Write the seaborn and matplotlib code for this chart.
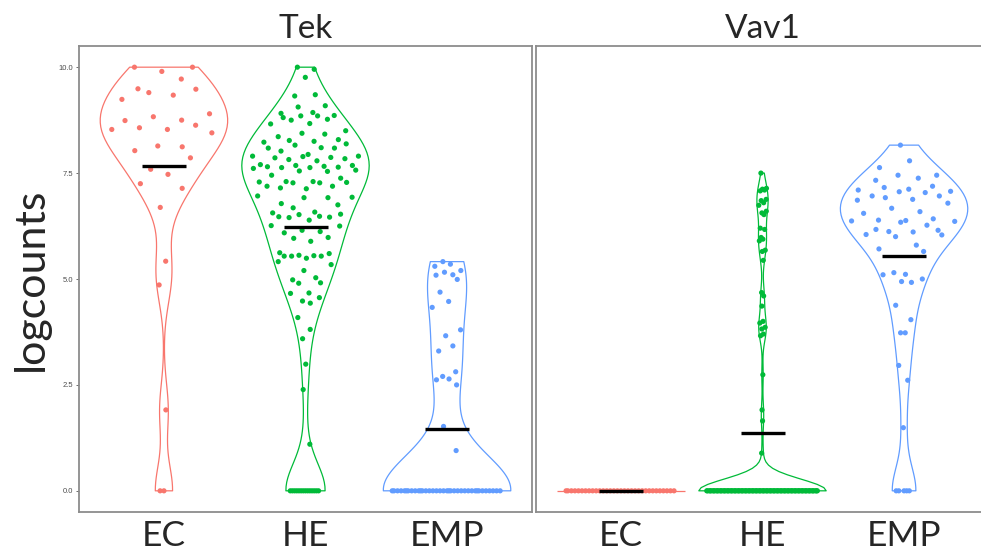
import numpy as np
import pandas as pd
import seaborn as sns
import matplotlib.pyplot as plt

# values (logcounts per cell)
genes = ['Tek', 'Vav1']
cell_types = ['EC', 'HE', 'EMP']
colours = ['#F8766D', '#00BA38', '#619CFF']

tek_ec = [10.0, 10.0, 9.9, 9.72, 9.49, 9.48, 9.40, 9.34, 9.24, 8.90, 8.74, 8.83,
          8.75, 8.63, 8.53, 8.57, 8.53, 8.45, 8.03, 8.14, 8.12, 7.86, 7.59, 7.47,
          7.25, 7.14, 6.69, 5.42, 4.86, 1.91, 0.0, 0.0]
tek_he = [10.0, 9.95, 9.76, 9.35, 9.32, 9.09, 9.06, 8.93, 8.91, 8.86, 8.85, 8.85,
          8.81, 8.77, 8.75, 8.67, 8.66, 8.50, 8.44, 8.42, 8.36, 8.29, 8.27, 8.25,
          8.23, 8.19, 8.16, 8.10, 8.09, 8.09, 8.02, 7.94, 7.90, 7.90, 7.89, 7.87,
          7.86, 7.84, 7.82, 7.79, 7.70, 7.68, 7.68, 7.66, 7.65, 7.64, 7.63, 7.63,
          7.61, 7.57, 7.55, 7.54, 7.45, 7.38, 7.30, 7.30, 7.29, 7.28, 7.27, 7.27,
          7.19, 7.19, 7.15, 7.13, 6.96, 6.93, 6.92, 6.92, 6.78, 6.75, 6.68,
          6.58, 6.56, 6.53, 6.52, 6.48, 6.47, 6.46, 6.45, 6.39, 6.26, 6.25, 6.15,
          6.12, 6.09, 5.98, 5.96, 5.89, 5.62, 5.60, 5.56, 5.55, 5.54, 5.54, 5.54,
          5.49, 5.41, 5.34, 5.20, 5.03, 4.98, 4.91, 4.90, 4.67, 4.66, 4.56, 4.48,
          4.43, 4.09, 3.81, 3.59, 2.99, 2.39, 1.10] + [0.0] * 14
tek_emp = [5.41, 5.35, 5.30, 5.20, 5.16, 5.10, 5.09, 4.99, 4.69, 4.47, 4.33, 3.80,
           3.66, 3.42, 3.30, 2.81, 2.70, 2.62, 2.64, 2.50, 1.52, 0.95] + [0.0] * 36
vav1_ec = [0.0] * 32
vav1_he = [7.50, 7.14, 7.12, 7.10, 7.08, 6.88, 6.85, 6.80, 6.74, 6.60, 6.56, 6.52,
           6.20, 6.17, 5.98, 5.94, 5.90, 5.68, 5.65, 5.44, 4.68, 4.60, 4.36, 4.00,
           3.96, 3.86, 3.82, 3.70, 3.66, 2.74, 1.91, 1.65, 0.89] + [0.0] * 95
vav1_emp = [8.16, 7.79, 7.63, 7.45, 7.45, 7.38, 7.33, 7.19, 7.16, 7.12, 7.10, 7.07,
            7.06, 7.04, 6.96, 6.96, 6.92, 6.88, 6.86, 6.79, 6.67, 6.59, 6.55, 6.42,
            6.39, 6.38, 6.37, 6.36, 6.34, 6.27, 6.17, 6.15, 6.12, 6.11, 6.05, 6.04,
            6.00, 5.80, 5.71, 5.65, 5.10, 5.15, 5.11, 5.00, 4.94, 4.92, 4.38, 4.04,
            3.73, 3.73, 2.96, 2.61, 1.49] + [0.0] * 5

data = {'Tek': [tek_ec, tek_he, tek_emp], 'Vav1': [vav1_ec, vav1_he, vav1_emp]}
rows = []
for gene in genes:
    for cell, vals in zip(cell_types, data[gene]):
        for v in vals:
            rows.append((gene, cell, v))
df = pd.DataFrame(rows, columns=['gene', 'cell', 'logcounts'])


def nrd0(x):
    # R's default bandwidth, as ggplot's violins use
    x = np.asarray(x, float)
    hi = x.std(ddof=1)
    q1, q3 = np.percentile(x, [25, 75])
    lo = min(hi, (q3 - q1) / 1.34)
    if lo == 0:
        lo = hi or abs(x[0]) or 1.0
    return 0.9 * lo * len(x) ** -0.2


def vdc(n):
    out = []
    for i in range(1, n + 1):
        v, denom, k = 0.0, 1.0, i
        while k:
            denom *= 2
            k, r = divmod(k, 2)
            v += r / denom
        out.append(v)
    return np.array(out)


def quasi_offsets(vals, width=0.4):
    # quasirandom spread like ggbeeswarm
    vals = np.asarray(vals, float)
    bw = nrd0(vals)
    dens = lambda y: np.exp(-0.5 * ((y[:, None] - vals[None, :]) / bw) ** 2).sum(1)
    grid = np.linspace(vals.min(), vals.max(), 200)
    scale = dens(vals) / dens(grid).max()
    q = np.empty(len(vals))
    q[np.argsort(vals, kind='stable')] = vdc(len(vals))
    return (q - 0.5) * 2 * width * scale


df['xpos'] = 0.0
for gene in genes:
    for i, cell in enumerate(cell_types):
        m = (df.gene == gene) & (df.cell == cell)
        df.loc[m, 'xpos'] = i + quasi_offsets(df.loc[m, 'logcounts'])

sns.set_style('white')
plt.rcParams['font.family'] = ['Lato', 'DejaVu Sans']

fig = plt.figure(figsize=(9.81, 5.54), dpi=100)
axes = [fig.add_axes([79 / 981, 42 / 554, 453 / 981, 466 / 554]),
        fig.add_axes([536 / 981, 42 / 554, 453 / 981, 466 / 554])]

for ax, gene in zip(axes, genes):
    gdf = df[df.gene == gene]
    for i, (cell, col) in enumerate(zip(cell_types, colours)):
        sub = gdf[gdf.cell == cell]
        sd = sub.logcounts.std()
        if sd > 0:
            sns.violinplot(data=sub, x='cell', y='logcounts', order=cell_types,
                           bw_method=nrd0(sub.logcounts) / sd, cut=0,
                           density_norm='width', width=0.9, fill=False,
                           color=col, linewidth=0.9, inner=None, ax=ax)
        else:
            ax.hlines(sub.logcounts.iloc[0], i - 0.45, i + 0.45, color=col, lw=0.9)
    sns.scatterplot(data=gdf, x='xpos', y='logcounts', hue='cell',
                    hue_order=cell_types, palette=colours, s=14, linewidth=0,
                    legend=False, zorder=3, ax=ax)
    sns.pointplot(data=gdf, x='cell', y='logcounts', order=cell_types,
                  estimator='mean', errorbar=None, color='black', marker='_',
                  markersize=31, markeredgewidth=2.4, linestyle='none', ax=ax)
    for line in ax.lines:
        if line.get_marker() == '_':
            line.set_zorder(5)

    ax.set_xlim(-0.6, 2.6)
    ax.set_ylim(-0.5, 10.5)
    ax.set_xticks(range(3))
    ax.set_xticklabels(cell_types, fontsize=25.5)
    ax.set_xlabel('')
    ax.set_title(gene, fontsize=24, pad=6)
    for s in ax.spines.values():
        s.set_color('#8c8c8c')
        s.set_linewidth(1.3)
    ax.tick_params(axis='x', length=2.5, width=0.6, color='#555555', pad=3)

axes[1].spines['right'].set_visible(False)
axes[0].set_yticks([0, 2.5, 5, 7.5, 10])
axes[0].set_yticklabels(['0.0', '2.5', '5.0', '7.5', '10.0'], fontsize=5.5,
                        color='#4d4d4d', family='Liberation Sans')
axes[0].tick_params(axis='y', left=True, length=2.5, width=0.6, color='#555555', pad=2)
axes[0].set_ylabel('logcounts', fontsize=31)
axes[0].yaxis.set_label_coords(-0.065, 0.5)
axes[1].set_yticks([])
axes[1].set_ylabel('')

fig.savefig('out.png', dpi=100)
